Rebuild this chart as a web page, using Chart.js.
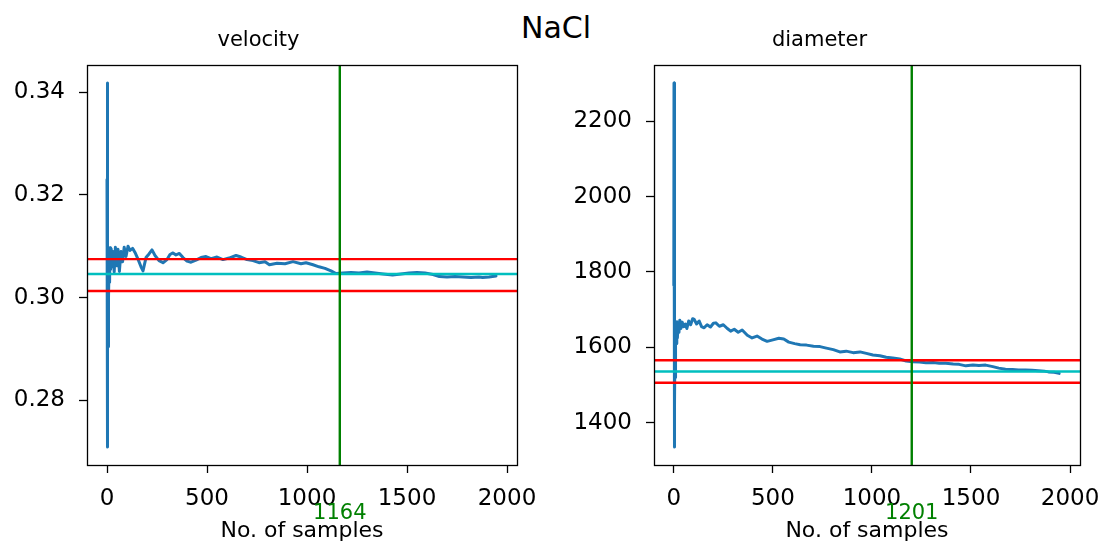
<!DOCTYPE html>
<html>
<head>
<meta charset="utf-8">
<script src="https://cdn.jsdelivr.net/npm/chart.js@4.4.1/dist/chart.umd.min.js"></script>
<style>
  html, body { margin: 0; padding: 0; background: #fff; }
  #wrap { position: relative; width: 1112px; height: 547px; overflow: hidden; }
  #suptitle {
    position: absolute; left: 0; top: 13px; width: 1112px; text-align: center;
    font-family: 'DejaVu Sans', sans-serif; font-size: 30px; line-height: 30px; color: #000;
  }
  canvas { position: absolute; top: 0; }
  #c-vel { left: 0; }
  #c-dia { left: 556px; }
</style>
</head>
<body>
<div id="wrap">
  <div id="suptitle">NaCl</div>
  <canvas id="c-vel" width="556" height="547"></canvas>
  <canvas id="c-dia" width="556" height="547"></canvas>
</div>
<script>
// running mean vs. number of samples, NaCl run

// velocity
const velX = [0, 1, 2, 3, 4, 5, 6, 7, 8, 9, 11, 13, 15, 18, 21, 25, 30, 36, 42, 48, 55, 62, 70, 78, 86, 95,
  105, 115, 128, 140, 155, 170, 180, 195, 210, 225, 240, 260, 280, 300, 315, 330, 345, 362, 380, 400,
  420, 445, 470, 495, 520, 550, 580, 610, 645, 670, 700, 730, 760, 790, 812, 850, 890, 930, 970, 995,
  1030, 1060, 1090, 1120, 1145, 1180, 1220, 1260, 1300, 1340, 1380, 1428, 1470, 1510, 1550, 1590,
  1630, 1662, 1700, 1740, 1780, 1820, 1860, 1878, 1910, 1945];
const velY = [0.3230, 0.3418, 0.3260, 0.2709, 0.2990, 0.2905, 0.3040, 0.2930, 0.3060, 0.3000, 0.3080, 0.3030, 0.3097, 0.3055, 0.3095, 0.3060, 0.3090, 0.3050, 0.3098, 0.3062, 0.3094, 0.3051, 0.3090, 0.3070, 0.3098, 0.3080,
  0.3100, 0.3092, 0.3096, 0.3088, 0.3075, 0.3060, 0.3052, 0.3078, 0.3085, 0.3093, 0.3082, 0.3072, 0.3068, 0.3074, 0.3084, 0.3087, 0.3083, 0.3086, 0.3078, 0.3071,
  0.3069, 0.3073, 0.3078, 0.3080, 0.3076, 0.3079, 0.3074, 0.3077, 0.3082, 0.3079, 0.3074, 0.3072, 0.3068, 0.3070, 0.3064, 0.3067, 0.3066, 0.3070, 0.3066, 0.3068,
  0.3064, 0.3060, 0.3057, 0.3052, 0.3047, 0.3048, 0.3049, 0.3048, 0.3050, 0.3048, 0.3046, 0.3044, 0.3046, 0.3048, 0.3049, 0.3048,
  0.3045, 0.3041, 0.3040, 0.3041, 0.3040, 0.3039, 0.3040, 0.3039, 0.3040, 0.3042];
const velLower = 0.3013;
const velMean  = 0.3046;
const velUpper = 0.3075;
const velCut   = 1164;

// diameter
const diaX = [0, 1, 2, 3, 4, 5, 6, 7, 8, 9, 11, 13, 15, 18, 22, 26, 30, 36, 42, 50, 58, 66, 75, 85, 95, 103,
  115, 128, 140, 153, 168, 185, 200, 212, 230, 250, 270, 287, 305, 325, 345, 371, 395, 420, 445, 471,
  500, 530, 555, 580, 610, 638, 670, 705, 738, 770, 805, 838, 870, 905, 940, 972, 1005, 1040, 1072,
  1105, 1140, 1173, 1205, 1240, 1273, 1310, 1340, 1373, 1410, 1440, 1474, 1510, 1540, 1574, 1610,
  1640, 1674, 1710, 1740, 1775, 1808, 1840, 1870, 1891, 1920, 1945];
const diaY = [1765, 2301, 1785, 1336, 1620, 1445, 1640, 1520, 1665, 1590, 1650, 1610, 1668, 1625, 1660, 1640, 1672, 1650, 1667, 1655, 1662, 1650, 1670, 1660, 1676, 1674,
  1662, 1670, 1655, 1652, 1660, 1654, 1664, 1665, 1656, 1660, 1650, 1643, 1648, 1640, 1646, 1632, 1625, 1630, 1622, 1616,
  1620, 1624, 1622, 1614, 1610, 1607, 1606, 1603, 1602, 1598, 1594, 1588, 1590, 1586, 1588, 1584, 1580, 1578, 1574,
  1572, 1569, 1564, 1562, 1561, 1559, 1560, 1558, 1558, 1556, 1555, 1551, 1553, 1552, 1553, 1549,
  1545, 1542, 1541, 1540, 1540, 1539, 1538, 1537, 1535, 1534, 1531];
const diaLower = 1506;
const diaMean  = 1536;
const diaUpper = 1566;
const diaCut   = 1201;

const X_TICKS = [0, 500, 1000, 1500, 2000];
const VEL_TICKS = [0.28, 0.30, 0.32, 0.34];
const DIA_TICKS = [1400, 1600, 1800, 2000, 2200];

const BLUE  = '#1f77b4';
const RED   = '#ff0000';
const CYAN  = '#00bfbf';
const GREEN = '#008000';

const FAMILY     = "'DejaVu Sans', sans-serif";
const TICK_FONT  = { family: FAMILY, size: 23 };
const LABEL_FONT = { family: FAMILY, size: 21 };

function pts(xs, ys) {
  return xs.map((x, i) => ({ x: x, y: ys[i] }));
}

// axes frame + green cut value under the axis
const framePlugin = {
  id: 'frame',
  afterDatasetsDraw(chart) {
    const a = chart.chartArea;
    const ctx = chart.ctx;
    ctx.save();
    ctx.strokeStyle = '#000';
    ctx.lineWidth = 1.3;
    ctx.strokeRect(Math.round(a.left) + 0.5, Math.round(a.top) + 0.5,
      Math.round(a.right - a.left), Math.round(a.bottom - a.top));
    ctx.restore();
  },
  afterDraw(chart, args, opts) {
    const ctx = chart.ctx;
    const x = chart.scales.x.getPixelForValue(opts.cut);
    ctx.save();
    ctx.fillStyle = GREEN;
    ctx.font = LABEL_FONT.size + 'px ' + LABEL_FONT.family;
    ctx.textAlign = 'center';
    ctx.textBaseline = 'middle';
    ctx.fillText(String(opts.cut), x, opts.labelY);
    ctx.restore();
  }
};

function makeChart(id, cfg) {
  const xMin = -100, xMax = 2050;
  const { yMin, yMax } = cfg;
  const hline = (v, color) => ({
    data: [{ x: xMin, y: v }, { x: xMax, y: v }],
    borderColor: color, borderWidth: 2.4, pointRadius: 0, order: 1
  });
  return new Chart(document.getElementById(id), {
    type: 'line',
    data: {
      datasets: [
        { data: pts(cfg.xs, cfg.ys), borderColor: BLUE, borderWidth: 3, pointRadius: 0,
          tension: 0, borderJoinStyle: 'round', borderCapStyle: 'round', order: 3 },
        hline(cfg.upper, RED),
        hline(cfg.lower, RED),
        hline(cfg.mean, CYAN),
        { data: [{ x: cfg.cut, y: yMin }, { x: cfg.cut, y: yMax }],
          borderColor: GREEN, borderWidth: 2.4, pointRadius: 0, order: 0 }
      ]
    },
    options: {
      responsive: false,
      animation: false,
      devicePixelRatio: 1,
      layout: { padding: { left: 0, right: cfg.padRight, top: 0, bottom: 0 } },
      plugins: {
        legend: { display: false },
        tooltip: { enabled: false },
        title: {
          display: true, text: cfg.title, color: '#000',
          font: { family: FAMILY, size: 21, weight: 'normal' },
          padding: { top: 28.4, bottom: 11.4 }
        },
        frame: { cut: cfg.cut, labelY: 514 }
      },
      scales: {
        x: {
          type: 'linear', min: xMin, max: xMax,
          afterBuildTicks: s => { s.ticks = X_TICKS.map(v => ({ value: v })); },
          afterFit: s => { s.height = 82; },
          grid: { drawOnChartArea: false, color: '#000', tickLength: 8, tickWidth: 1.3 },
          border: { display: false },
          ticks: { color: '#000', font: TICK_FONT, padding: 12, maxRotation: 0,
            callback: v => String(v) },
          title: { display: true, text: 'No. of samples', color: '#000',
            font: { family: FAMILY, size: 22 }, padding: { top: 0, bottom: 3 } }
        },
        y: {
          type: 'linear', min: yMin, max: yMax,
          afterBuildTicks: s => { s.ticks = cfg.yTicks.map(v => ({ value: v })); },
          afterFit: s => { s.width = cfg.axisWidth; },
          grid: { drawOnChartArea: false, color: '#000', tickLength: 8, tickWidth: 1.3 },
          border: { display: false },
          ticks: { color: '#000', font: TICK_FONT, padding: 14, callback: cfg.fmt }
        }
      }
    },
    plugins: [framePlugin]
  });
}

makeChart('c-vel', {
  title: 'velocity', xs: velX, ys: velY,
  lower: velLower, mean: velMean, upper: velUpper, cut: velCut,
  yMin: 0.2674, yMax: 0.3453, yTicks: VEL_TICKS, fmt: v => v.toFixed(2),
  axisWidth: 87, padRight: 39
});

makeChart('c-dia', {
  title: 'diameter', xs: diaX, ys: diaY,
  lower: diaLower, mean: diaMean, upper: diaUpper, cut: diaCut,
  yMin: 1288, yMax: 2349, yTicks: DIA_TICKS, fmt: v => String(v),
  axisWidth: 98, padRight: 29
});
</script>
</body>
</html>
